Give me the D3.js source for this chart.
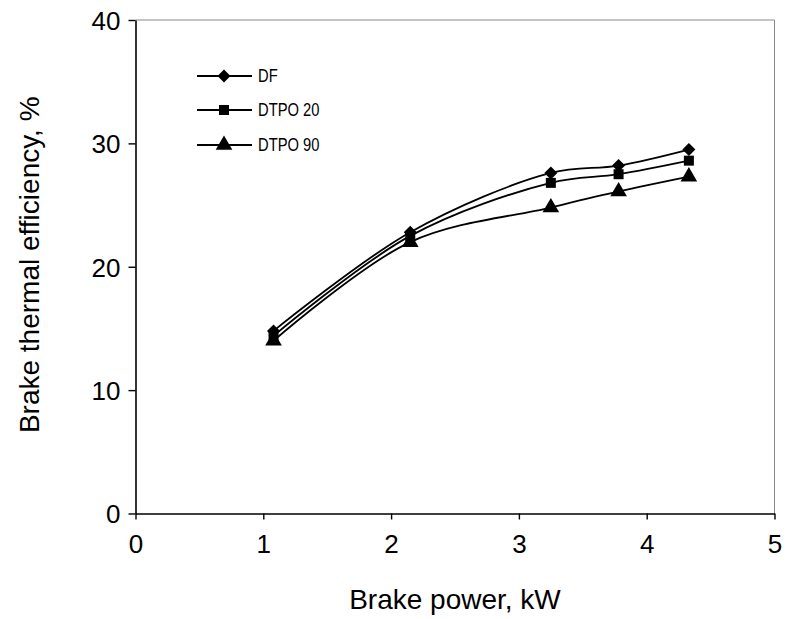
<!DOCTYPE html>
<html>
<head>
<meta charset="utf-8">
<script src="https://cdn.jsdelivr.net/npm/d3@7"></script>
<style>
body{margin:0;background:#fff;}
svg{display:block;font-family:Arial,"Liberation Sans",sans-serif;}
</style>
</head>
<body>
<svg id="c" width="788" height="619"></svg>
<script>
const power = [1.08, 2.15, 3.25, 3.78, 4.33];
const dfVals = [14.8, 22.8, 27.6, 28.2, 29.5];
const dtpo20Vals = [14.4, 22.5, 26.8, 27.5, 28.6];
const dtpo90Vals = [14.0, 22.0, 24.8, 26.1, 27.3];
const seriesNames = ["DF", "DTPO 20", "DTPO 90"];
const markerTypes = [d3.symbolSquare, d3.symbolSquare, d3.symbolTriangle];
const markerRot = [45, 0, 0];
const xTicks = [0,1,2,3,4,5];
const yTicks = [0,10,20,30,40];

const svg = d3.select("#c");
const L=135.5, R=774.5, T=20, B=513.5;
const x = d3.scaleLinear().domain([0,5]).range([L,R]);
const y = d3.scaleLinear().domain([0,40]).range([B,T]);

svg.append("line").attr("x1",L).attr("x2",R).attr("y1",T).attr("y2",T).attr("stroke","#888").attr("stroke-width",1);
svg.append("line").attr("x1",R).attr("x2",R).attr("y1",T).attr("y2",B).attr("stroke","#888").attr("stroke-width",1);

const xAxis = svg.append("g").attr("transform",`translate(0,${B})`)
  .call(d3.axisBottom(x).tickValues(xTicks).tickSize(6).tickPadding(14).tickFormat(d3.format("d")).tickSizeOuter(0));
const yAxis = svg.append("g").attr("transform",`translate(${L},0)`)
  .call(d3.axisLeft(y).tickValues(yTicks).tickSize(7).tickPadding(8).tickFormat(d3.format("d")).tickSizeOuter(0));
[xAxis,yAxis].forEach(a=>{
  a.attr("font-size",null).attr("font-family",null);
  a.select(".domain").attr("stroke","#000").attr("stroke-width",1.6);
  a.selectAll(".tick line").attr("stroke","#000").attr("stroke-width",1.4);
  a.selectAll(".tick text").attr("fill","#000").attr("font-size","26px");
});
yAxis.selectAll(".tick text").attr("dy","0.36em");
xAxis.selectAll(".tick text").attr("dy","0.75em");

svg.append("text").attr("x",455).attr("y",609).attr("text-anchor","middle")
  .attr("font-size","28px").text("Brake power, kW");
svg.append("text").attr("transform",`translate(39,${(T+B)/2-2}) rotate(-90)`).attr("text-anchor","middle")
  .attr("font-size","28px").text("Brake thermal efficiency, %");

const allSeries = [dfVals, dtpo20Vals, dtpo90Vals];
const line = d3.line().x((d,i)=>x(power[i])).y(d=>y(d)).curve(d3.curveCatmullRom.alpha(0.5));
const sizes = [85, 100, 120];
allSeries.forEach((vals,si)=>{
  svg.append("path").attr("d",line(vals)).attr("fill","none").attr("stroke","#000").attr("stroke-width",1.8);
  svg.selectAll(null).data(vals).enter().append("path")
    .attr("d",d3.symbol().type(markerTypes[si]).size(sizes[si]))
    .attr("transform",(d,i)=>`translate(${x(power[i])},${y(d)}) rotate(${markerRot[si]})`)
    .attr("fill","#000");
});

const legY = [76, 110, 145];
seriesNames.forEach((n,i)=>{
  svg.append("line").attr("x1",197).attr("x2",252).attr("y1",legY[i]).attr("y2",legY[i]).attr("stroke","#000").attr("stroke-width",1.8);
  svg.append("path").attr("d",d3.symbol().type(markerTypes[i]).size(sizes[i]))
    .attr("transform",`translate(224,${legY[i]}) rotate(${markerRot[i]})`).attr("fill","#000");
  svg.append("text").attr("transform",`translate(258,${legY[i]}) scale(0.82,1)`).attr("dy","0.36em").attr("font-size","18px").text(n);
});
</script>
</body>
</html>
